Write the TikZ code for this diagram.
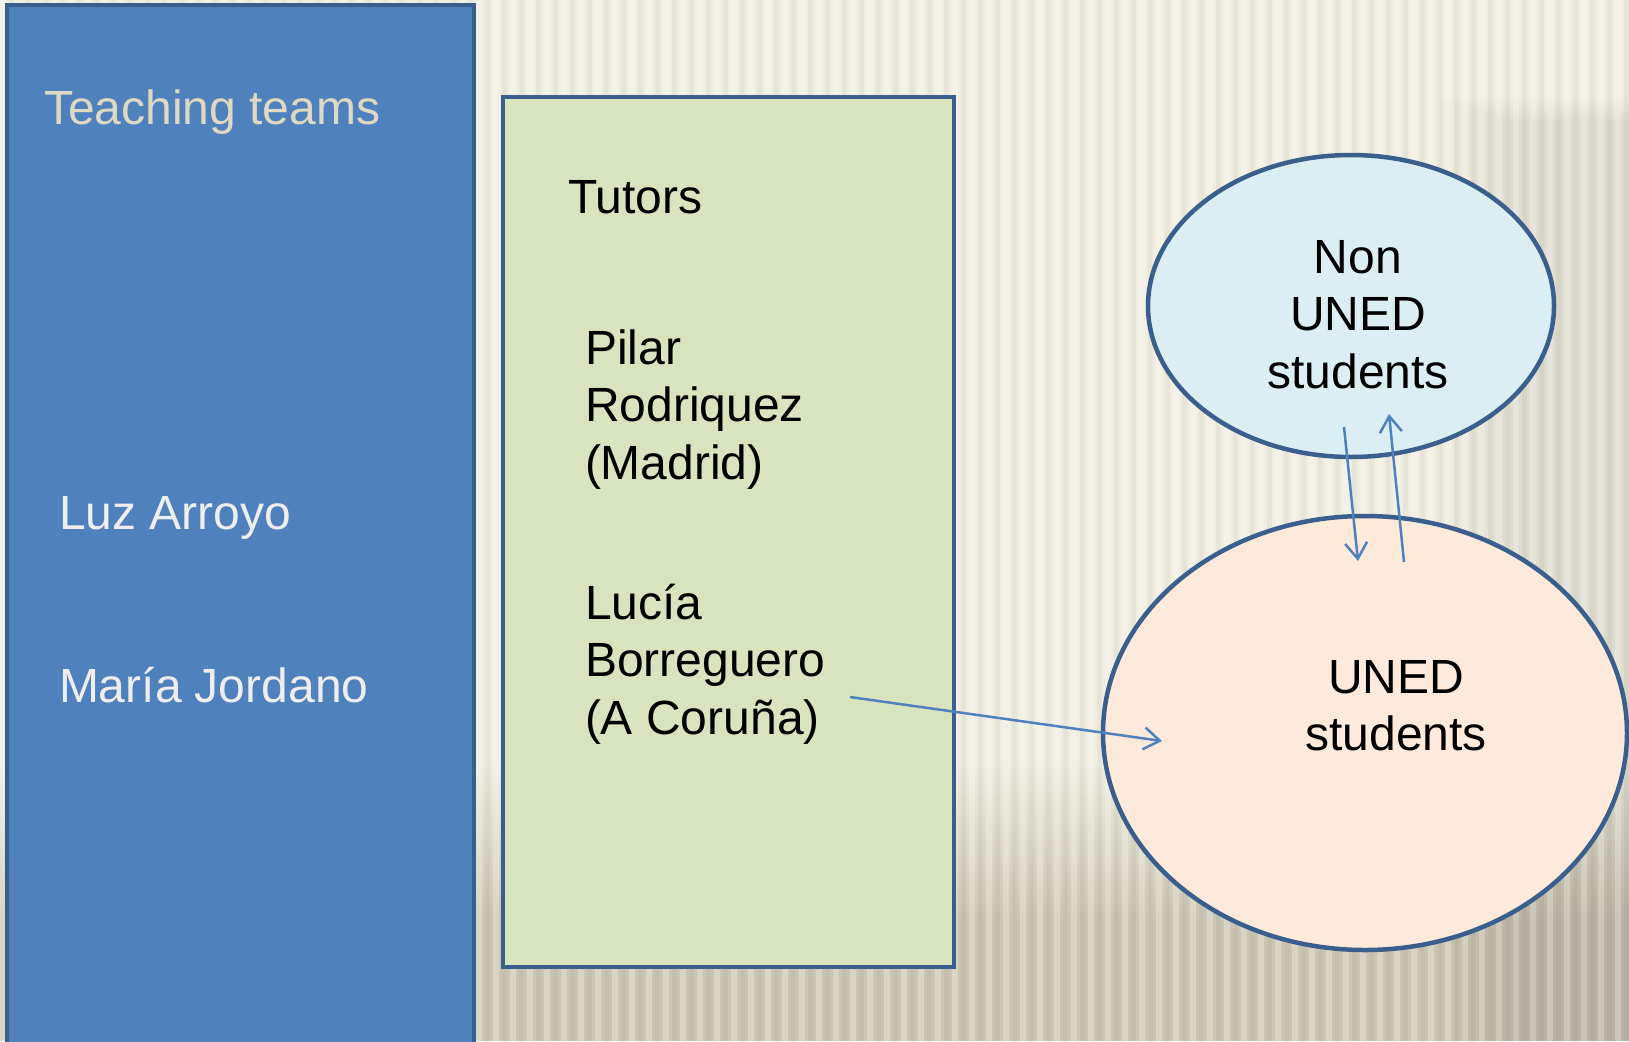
\documentclass[tikz,border=0pt]{standalone}
\usepackage{fontspec}
\setmainfont{Liberation Sans}
\usetikzlibrary{arrows.meta,shapes.geometric}
\definecolor{bgA}{HTML}{F0EDE1}
\definecolor{bgB}{HTML}{CBC6B3}
\definecolor{teamblue}{HTML}{4F81BD}
\definecolor{edgeblue}{HTML}{3A5F8C}
\definecolor{tutorgreen}{HTML}{D7E4BD}
\definecolor{nonblue}{HTML}{DBEEF4}
\definecolor{unedpeach}{HTML}{FDEADA}
\definecolor{beigetext}{HTML}{DDD9C3}
\definecolor{lighttext}{HTML}{EEEEEE}
\begin{document}
\begin{tikzpicture}[x=1pt,y=-1pt,
  panel/.style={draw=edgeblue,line width=4.5pt,rectangle,inner sep=0pt,outer sep=0pt},
  blob/.style={draw=edgeblue,line width=4.5pt,ellipse,inner sep=0pt,outer sep=0pt},
  label/.style={inner sep=0pt,outer sep=0pt,anchor=base west,font=\fontsize{48}{57.5}\selectfont},
  clabel/.style={inner sep=0pt,outer sep=0pt,anchor=base,font=\fontsize{48}{57.5}\selectfont},
  link/.style={draw=teamblue,line width=2.5pt,-{Straight Barb[length=16pt,width=22pt,line width=2.5pt]}}]
\useasboundingbox (0,0) rectangle (1629,1041);
% background
\fill[bgA] (0,0) rectangle (1629,1041);
\shade[top color=bgA,bottom color=bgB] (0,760) rectangle (1629,920);
\fill[bgB] (0,920) rectangle (1629,1041);
\foreach \s in {0,1,...,5} {
  \fill[black,opacity=0.012] (1440+\s*14,100+\s*4) rectangle (1629,1041);
}
\foreach \x in {0,17,...,1629} {
  \fill[white,opacity=0.25] (\x,0) rectangle (\x+6,1041);
  \fill[black,opacity=0.035] (\x+9,0) rectangle (\x+14,1041);
}
% panels
\node[panel,fill=teamblue,minimum width=467pt,minimum height=1045pt] (team) at (240.5,527.5) {};
\node[panel,fill=tutorgreen,minimum width=451pt,minimum height=870pt] (tutors) at (728.5,532) {};
\node[blob,fill=nonblue,minimum width=406pt,minimum height=302pt] (non) at (1351,306) {};
\node[blob,fill=unedpeach,minimum width=524pt,minimum height=434pt] (uned) at (1365,733) {};
% texts
\node[label,text=beigetext] (tt) at (44,124) {Teaching teams};
\node[label,text=lighttext] (luz) at (59,529) {Luz Arroyo};
\node[label,text=lighttext] (maria) at (59,702) {María Jordano};
\node[label] (tut) at (568,213) {Tutors};
\node[label] (pilar) at (585,364) {\vtop{\hbox{Pilar}\hbox{Rodriquez}\hbox{(Madrid)}}};
\node[label] (lucia) at (585,619) {\vtop{\hbox{Lucía}\hbox{Borreguero}\hbox{(A Coruña)}}};
\node[clabel] (nontxt) at (1358,273) {\vtop{\halign{\hfil#\hfil\cr Non\cr UNED\cr students\cr}}};
\node[clabel] (unedtxt) at (1396,693) {\vtop{\halign{\hfil#\hfil\cr UNED\cr students\cr}}};
% connectors
\coordinate (a1) at (850,697);
\coordinate (a2) at (1162,741);
\coordinate (b1) at (1344,427);
\coordinate (b2) at (1358,561);
\coordinate (c1) at (1404,562);
\coordinate (c2) at (1389,414);
\draw[link] (a1) -- (a2);
\draw[link] (b1) -- (b2);
\draw[link] (c1) -- (c2);
\end{tikzpicture}
\end{document}
